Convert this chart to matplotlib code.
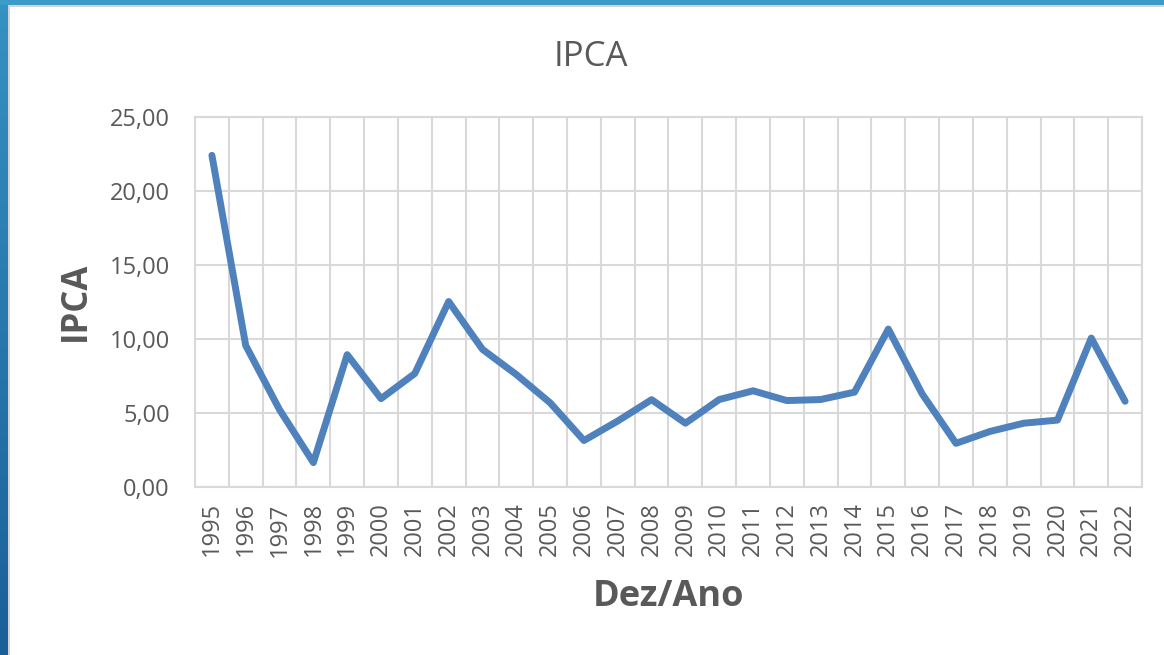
import matplotlib
matplotlib.use("Agg")
import matplotlib.pyplot as plt
import numpy as np
from matplotlib.ticker import FuncFormatter, FixedLocator
from matplotlib.patches import Rectangle
from matplotlib.colors import LinearSegmentedColormap

years = ["1995", "1996", "1997", "1998", "1999", "2000", "2001", "2002", "2003", "2004",
         "2005", "2006", "2007", "2008", "2009", "2010", "2011", "2012", "2013", "2014",
         "2015", "2016", "2017", "2018", "2019", "2020", "2021", "2022"]
ipca = [22.41, 9.56, 5.22, 1.65, 8.94, 5.97, 7.67, 12.53, 9.30, 7.60,
        5.69, 3.14, 4.46, 5.90, 4.31, 5.91, 6.50, 5.84, 5.91, 6.41,
        10.67, 6.29, 2.95, 3.75, 4.31, 4.52, 10.06, 5.79]
y_ticks = [0, 5, 10, 15, 20, 25]

W, H = 1164, 655
fig = plt.figure(figsize=(W / 100, H / 100), dpi=100, facecolor="white")
plt.rcParams['font.family'] = ['Open Sans', 'DejaVu Sans']

# decorative border (slide background)
grad_ax = fig.add_axes([0, 0, 8 / W, 1])
grad = np.linspace(0, 1, 256).reshape(-1, 1)
cmap = LinearSegmentedColormap.from_list("b", ["#1b5f98", "#3592c2"])
grad_ax.imshow(grad, aspect="auto", cmap=cmap, origin="lower", extent=[0, 1, 0, 1])
grad_ax.axis("off")
fig.add_artist(Rectangle((0, 1 - 5 / H), 1, 5 / H, transform=fig.transFigure,
                         facecolor="#3c9bc7", edgecolor="none", zorder=5))
fig.add_artist(Rectangle((8 / W, 1 - 7 / H), 1, 2 / H, transform=fig.transFigure,
                         facecolor="#d4d4d4", edgecolor="none", zorder=5))
fig.add_artist(Rectangle((8 / W, 0), 2 / W, 1 - 5 / H, transform=fig.transFigure,
                         facecolor="#d4d4d4", edgecolor="none", zorder=5))

ax = fig.add_axes([195 / W, 1 - 487 / H, (1142 - 195) / W, (487 - 117) / H])
x = np.arange(len(years))
grid_c = "#d9d9d9"
text_c = "#595959"

ax.plot(x, ipca, color="#4f81bd", linewidth=5, solid_capstyle="round",
        solid_joinstyle="round", zorder=3)

ax.set_xlim(-0.5, len(years) - 0.5)
ax.set_ylim(0, 25)
ax.set_xticks(x)
ax.set_xticklabels(years, rotation=90)
ax.xaxis.set_minor_locator(FixedLocator(np.arange(-0.5, len(years) + 0.5, 1)))
ax.set_yticks(y_ticks)
ax.yaxis.set_major_formatter(FuncFormatter(lambda v, p: f"{v:.2f}".replace(".", ",")))

ax.grid(True, which="minor", axis="x", color=grid_c, linewidth=1.5)
ax.grid(True, which="major", axis="y", color=grid_c, linewidth=1.5)
ax.set_axisbelow(True)
for s in ax.spines.values():
    s.set_color(grid_c)
    s.set_linewidth(1.5)
ax.tick_params(axis="both", which="both", length=0, labelsize=17, labelcolor=text_c)
ax.tick_params(axis="y", pad=18)
ax.tick_params(axis="x", pad=11)

fig.text(591 / W, 1 - 57 / H, "IPCA", ha="center", va="center", fontsize=25, color=text_c)
fig.text(76 / W, 1 - 301 / H, "IPCA", ha="center", va="center", fontsize=25,
         fontweight="bold", rotation=90, color=text_c)
fig.text(668 / W, 1 - 597 / H, "Dez/Ano", ha="center", va="center", fontsize=26,
         fontweight="bold", color=text_c)

fig.savefig("out.png", dpi=100, facecolor="white")
